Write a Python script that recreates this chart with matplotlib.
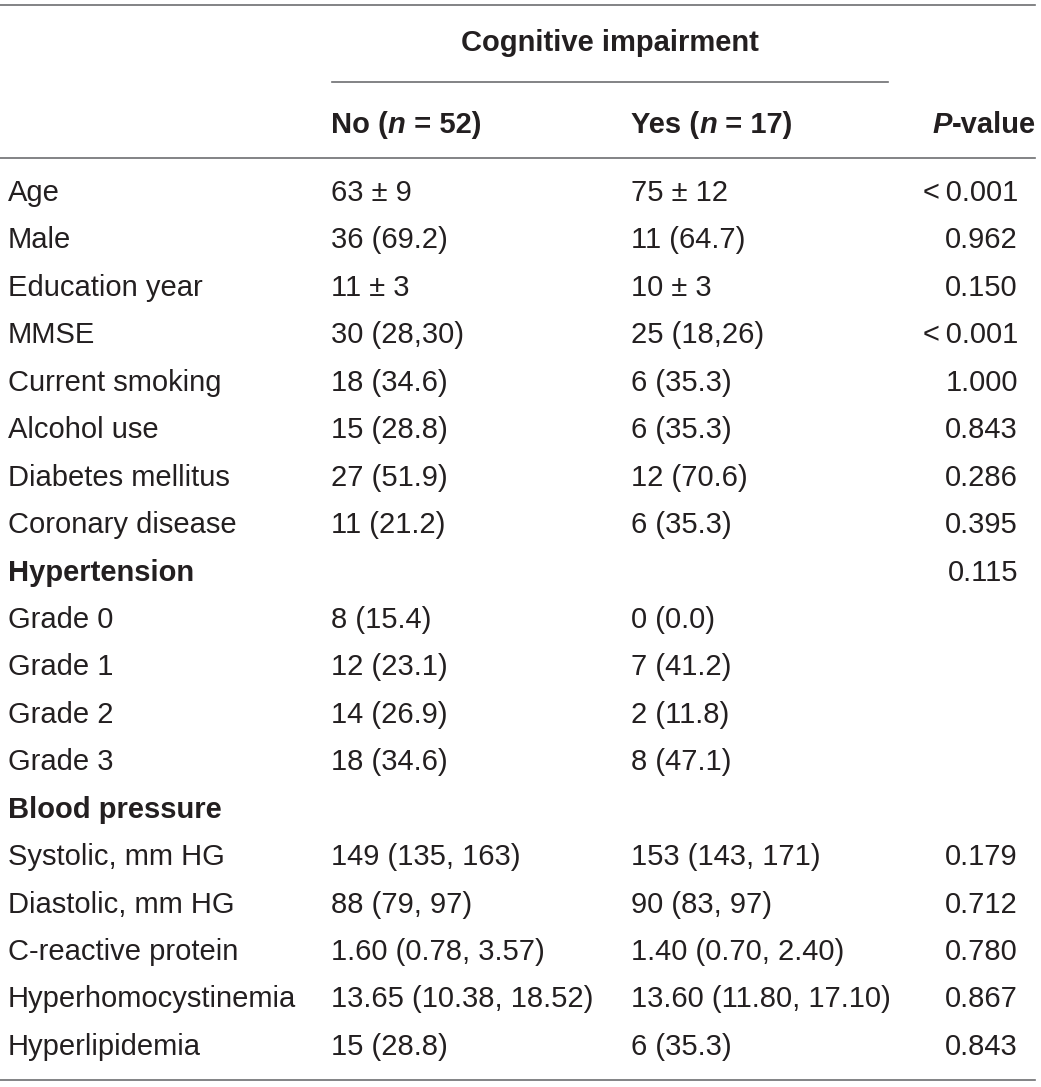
import matplotlib
matplotlib.use("Agg")
import matplotlib.pyplot as plt

labels = ["Age", "Male", "Education year", "MMSE", "Current smoking", "Alcohol use",
          "Diabetes mellitus", "Coronary disease", "Hypertension", "Grade 0", "Grade 1",
          "Grade 2", "Grade 3", "Blood pressure", "Systolic, mm HG", "Diastolic, mm HG",
          "C-reactive protein", "Hyperhomocystinemia", "Hyperlipidemia"]
bold_rows = ["Hypertension", "Blood pressure"]
no_vals = ["63 ± 9", "36 (69.2)", "11 ± 3", "30 (28,30)", "18 (34.6)", "15 (28.8)",
           "27 (51.9)", "11 (21.2)", "", "8 (15.4)", "12 (23.1)", "14 (26.9)", "18 (34.6)",
           "", "149 (135, 163)", "88 (79, 97)", "1.60 (0.78, 3.57)",
           "13.65 (10.38, 18.52)", "15 (28.8)"]
yes_vals = ["75 ± 12", "11 (64.7)", "10 ± 3", "25 (18,26)", "6 (35.3)", "6 (35.3)",
            "12 (70.6)", "6 (35.3)", "", "0 (0.0)", "7 (41.2)", "2 (11.8)", "8 (47.1)",
            "", "153 (143, 171)", "90 (83, 97)", "1.40 (0.70, 2.40)",
            "13.60 (11.80, 17.10)", "6 (35.3)"]
p_vals = ["<\u20090.001", "0.962", "0.150", "<\u20090.001", "1.000", "0.843", "0.286", "0.395",
          "0.115", "", "", "", "", "", "0.179", "0.712", "0.780", "0.867", "0.843"]

W, H = 1041, 1087
plt.rcParams["font.family"] = ["Liberation Sans", "DejaVu Sans"]
fig = plt.figure(figsize=(W / 100, H / 100), dpi=100)
ax = fig.add_axes([0, 0, 1, 1])
ax.set_xlim(0, W)
ax.set_ylim(H, 0)
ax.axis("off")

fs = 21
tc = "#231f20"
lc = "#6d6e71"

# rules
ax.plot([0, 1035], [5, 5], color=lc, lw=1.2)
ax.plot([332, 888], [82, 82], color=lc, lw=1.2)
ax.plot([0, 1035], [158, 158], color=lc, lw=1.2)
ax.plot([0, 1035], [1080, 1080], color=lc, lw=1.2)

fig.canvas.draw()
renderer = fig.canvas.get_renderer()


def pieces(x, y, parts, align="left"):
    """parts: list of (text, style) drawn one after another, bold weight."""
    objs = []
    widths = []
    for t, st in parts:
        o = ax.text(0, y, t, ha="left", va="center", fontsize=fs, fontweight="bold",
                    style=st, color=tc)
        bb = o.get_window_extent(renderer)
        objs.append(o)
        widths.append(bb.width)
    total = sum(widths)
    cx = x if align == "left" else x - total
    for o, w in zip(objs, widths):
        o.set_x(cx)
        cx += w


ax.text(610, 43, "Cognitive impairment", ha="center", va="center", fontsize=fs,
        fontweight="bold", color=tc)
pieces(331, 125, [("No (", "normal"), ("n", "italic"), (" = 52)", "normal")])
pieces(631, 125, [("Yes (", "normal"), ("n", "italic"), (" = 17)", "normal")])
pieces(1036, 125, [("P", "italic"), ("-value", "normal")], align="right")

y0, dy = 193, 47.44
for i, lab in enumerate(labels):
    y = y0 + i * dy
    ax.text(8, y, lab, ha="left", va="center", fontsize=fs, color=tc,
            fontweight="bold" if lab in bold_rows else "normal")
    ax.text(331, y, no_vals[i], ha="left", va="center", fontsize=fs, color=tc)
    ax.text(631, y, yes_vals[i], ha="left", va="center", fontsize=fs, color=tc)
    ax.text(1018, y, p_vals[i], ha="right", va="center", fontsize=fs, color=tc)

fig.savefig("out.png", dpi=100)
